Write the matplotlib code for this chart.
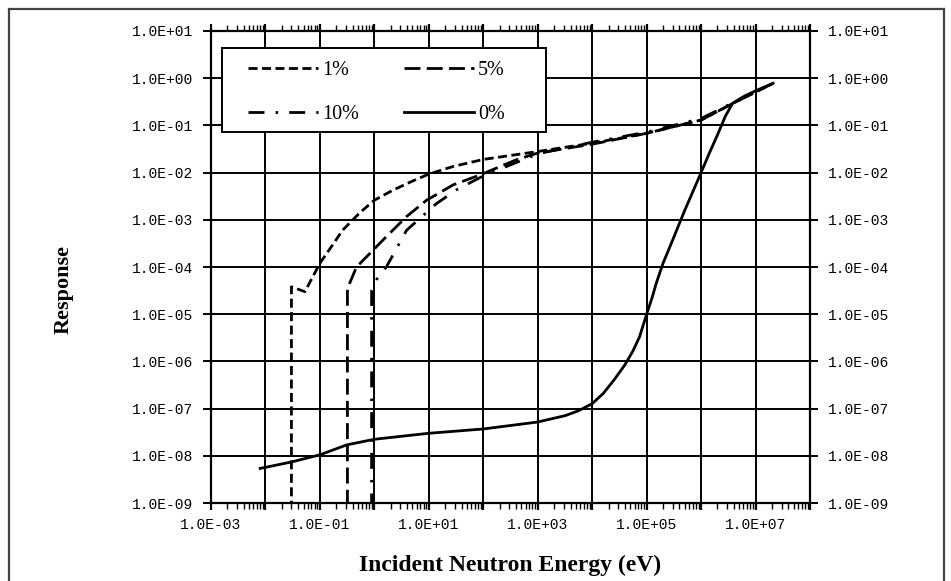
import matplotlib
matplotlib.use("Agg")
import matplotlib.pyplot as plt
from matplotlib.ticker import FixedLocator, FixedFormatter, NullLocator
from matplotlib.lines import Line2D
from matplotlib.patches import Rectangle

# ---------------- data ----------------
series_labels = ["1%", "5%", "10%", "0%"]

energy_1 = [0.030, 0.030, 0.053, 0.10, 0.18, 0.26, 0.54, 1.0, 2.24, 5.0, 10, 28, 100, 1e3, 1e4, 1e5, 1e6,
            4e6, 2.1e7]
resp_1 = [1e-10, 3.8e-5, 3.0e-5, 1.2e-4, 3.2e-4, 6.0e-4, 1.41e-3, 2.6e-3, 4.3e-3, 6.6e-3, 9.3e-3, 1.35e-2,
          1.9e-2, 2.8e-2, 4.2e-2, 6.8e-2, 0.13, 0.30, 0.78]

energy_5 = [0.32, 0.32, 0.47, 1.66, 3.9, 9.1, 28, 87, 400, 1e3, 1e4, 1e5, 1e6, 4e6, 2.1e7]
resp_5 = [1e-10, 3.5e-5, 1.0e-4, 4.4e-4, 1.17e-3, 2.6e-3, 5.5e-3, 8.9e-3, 1.86e-2, 2.6e-2, 4.0e-2, 6.8e-2,
          0.13, 0.30, 0.78]

energy_10 = [0.89, 0.89, 1.17, 1.66, 3.9, 13.8, 32, 100, 1e3, 1e4, 1e5, 1e6, 4e6, 2.1e7]
resp_10 = [1e-10, 3.2e-5, 6.3e-5, 1.0e-4, 6.0e-4, 2.2e-3, 4.3e-3, 8.5e-3, 2.5e-2, 4.4e-2, 7.2e-2, 0.14,
           0.31, 0.78]

energy_0 = [0.008, 0.03, 0.1, 0.31, 1, 10, 100, 1e3, 3.2e3, 5.6e3, 1e4, 1.6e4, 2.5e4, 4e4, 5.6e4, 7.4e4,
            1e5, 1.26e5, 1.5e5, 2e5, 3e5, 5e5, 7.1e5, 1e6, 1.4e6, 2e6, 2.8e6, 3.8e6, 6.3e6, 1e7, 2.1e7]
resp_0 = [5.4e-9, 7.4e-9, 1.05e-8, 1.7e-8, 2.24e-8, 3.0e-8, 3.7e-8, 5.2e-8, 7.1e-8, 9.0e-8, 1.27e-7,
          2.1e-7, 4.0e-7, 8.5e-7, 1.66e-6, 3.3e-6, 1.0e-5, 2.24e-5, 4.5e-5, 1.2e-4, 3.7e-4, 1.58e-3,
          4.0e-3, 1.0e-2, 2.5e-2, 6.3e-2, 0.158, 0.295, 0.42, 0.54, 0.78]

x_ticks = [1e-3, 1e-2, 1e-1, 1e0, 1e1, 1e2, 1e3, 1e4, 1e5, 1e6, 1e7, 1e8]
x_tick_labels = ["1.0E-03", "", "1.0E-01", "", "1.0E+01", "", "1.0E+03", "", "1.0E+05", "", "1.0E+07", ""]
y_ticks = [1e-9, 1e-8, 1e-7, 1e-6, 1e-5, 1e-4, 1e-3, 1e-2, 1e-1, 1e0, 1e1]
y_tick_labels = ["1.0E-09", "1.0E-08", "1.0E-07", "1.0E-06", "1.0E-05", "1.0E-04", "1.0E-03",
                 "1.0E-02", "1.0E-01", "1.0E+00", "1.0E+01"]

x_label = "Incident Neutron Energy (eV)"
y_label = "Response"

# ---------------- figure ----------------
plt.rcParams["lines.scale_dashes"] = False
W, H = 951, 581
fig = plt.figure(figsize=(W / 100, H / 100), dpi=100)
fig.patch.set_facecolor("white")

left, right, top, bottom = 211, 810, 31, 503
ax = fig.add_axes([left / W, 1 - bottom / H, (right - left) / W, (bottom - top) / H])
ax.set_xscale("log")
ax.set_yscale("log")
ax.set_xlim(1e-3, 1e8)
ax.set_ylim(1e-9, 1e1)

lw = 2.0
l1, = ax.plot(energy_1, resp_1, color="black", lw=lw, dashes=(6.5, 3.2), label=series_labels[0])
l5, = ax.plot(energy_5, resp_5, color="black", lw=lw, dashes=(11.5, 4.5), label=series_labels[1])
l10, = ax.plot(energy_10, resp_10, color="black", lw=lw, dashes=(11.5, 8.0, 1.8, 8.0), label=series_labels[2])
l0, = ax.plot(energy_0, resp_0, color="black", lw=lw, linestyle="-", label=series_labels[3])

# grid
ax.grid(True, which="major", color="black", lw=1.4)
ax.set_axisbelow(True)
for s in ax.spines.values():
    s.set_linewidth(1.6)
    s.set_color("black")

# ticks
ax.xaxis.set_major_locator(FixedLocator(x_ticks))
ax.xaxis.set_major_formatter(FixedFormatter(x_tick_labels))
ax.yaxis.set_major_locator(FixedLocator(y_ticks))
ax.yaxis.set_major_formatter(FixedFormatter(y_tick_labels))
ax.yaxis.set_minor_locator(NullLocator())
minor_x = [m * 10.0 ** d for d in range(-3, 8) for m in range(2, 10)]
ax.xaxis.set_minor_locator(FixedLocator(minor_x))

fs_tick = 10.5
ax.tick_params(axis="x", which="major", direction="out", length=5, width=1.6, top=True, bottom=True,
               labelsize=fs_tick, pad=6, colors="black")
ax.tick_params(axis="x", which="minor", direction="out", length=4, width=1.0, top=True, bottom=True)
ax.tick_params(axis="y", which="major", direction="out", length=6, width=1.4, left=True, right=True,
               labelleft=True, labelright=True, labelsize=fs_tick, pad=7, colors="black")
for t in ax.yaxis.get_major_ticks():
    t.label1.set_fontfamily("Liberation Mono")
    t.label2.set_fontfamily("Liberation Mono")
for t in ax.xaxis.get_major_ticks():
    t.label1.set_fontfamily("Liberation Mono")

# axis labels
fig.text(0.5 * (left + right) / W, 1 - 565 / H, x_label, ha="center", va="center",
         fontfamily="Liberation Serif", fontweight="bold", fontsize=17)
fig.text(64 / W, 1 - 290 / H, y_label, ha="center", va="center", rotation=90,
         fontfamily="Liberation Serif", fontweight="bold", fontsize=16)

# legend (row 1: 1%, 5%; row 2: 10%, 0%) with a separate frame drawn beneath it
frame = Rectangle((222 / W, 1 - 132 / H), (546 - 222) / W, (132 - 48) / H, transform=fig.transFigure,
                  facecolor="white", edgecolor="black", lw=1.4, zorder=4.5, clip_on=False)
ax.add_patch(frame)
leg = ax.legend([l1, l10, l5, l0], [series_labels[0], series_labels[2], series_labels[1], series_labels[3]],
                ncol=2, loc="upper left", bbox_to_anchor=(248 / W, 1 - 61 / H),
                bbox_transform=fig.transFigure, borderaxespad=0, frameon=False,
                borderpad=0, labelspacing=1.25, handlelength=3.5, handletextpad=0.2,
                columnspacing=2.2, prop=dict(family="Liberation Serif", size=14.5))
leg.set_zorder(6)

# outer figure frame
fig.add_artist(Line2D([8.5 / W, 8.5 / W], [0, 1 - 9 / H], transform=fig.transFigure, color="#444444", lw=1.6))
fig.add_artist(Line2D([8.5 / W, 944 / W], [1 - 9 / H, 1 - 9 / H], transform=fig.transFigure, color="#444444", lw=1.6))
fig.add_artist(Line2D([944 / W, 944 / W], [0, 1 - 9 / H], transform=fig.transFigure, color="#444444", lw=1.6))

fig.savefig("out.png", dpi=100)
